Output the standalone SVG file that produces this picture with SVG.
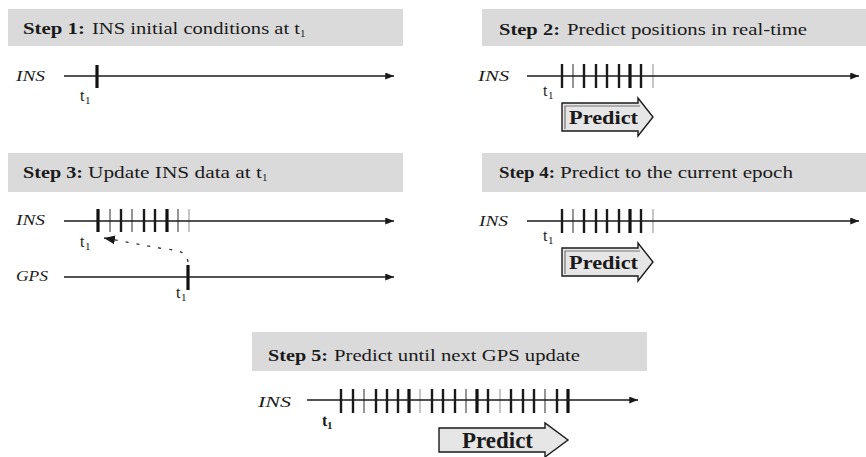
<svg xmlns="http://www.w3.org/2000/svg" width="866" height="457" viewBox="0 0 866 457">
  <defs>
    <style>
      text { font-family: "Liberation Serif", "Times New Roman", Times, "DejaVu Serif", serif; fill: #1a1a1a; }
      .hdr { fill: #dadada; }
      .ttl { font-size: 17px; }
      .ttl-b { font-weight: bold; }
      .sub { font-size: 11px; }
      .lbl { font-size: 15px; font-style: italic; }
      .tlab { font-size: 16px; }
      .axis { stroke: #1a1a1a; stroke-width: 1.6; fill: none; marker-end: url(#head); }
      .tk { stroke: #1a1a1a; stroke-width: 2.4; }
      .tk-b { stroke: #111; stroke-width: 3.2; }
      .tk-g { stroke: #8a8a8a; stroke-width: 1.8; }
      .tk-l { stroke: #b8b8b8; stroke-width: 1.6; }
      .pred { fill: #e6e6e6; stroke: #1a1a1a; stroke-width: 1.4; }
      .pred-sh { fill: none; stroke: #777; stroke-width: 1.2; }
      .ptxt { font-weight: bold; }
    </style>
    <marker id="head" viewBox="0 0 10 8" refX="10" refY="4" markerWidth="10" markerHeight="7" markerUnits="userSpaceOnUse" orient="auto">
      <path d="M0,0 L10,4 L0,8 Z" fill="#1a1a1a"/>
    </marker>
    <marker id="back" viewBox="0 0 10 8" refX="10" refY="4" markerWidth="11" markerHeight="9" markerUnits="userSpaceOnUse" orient="auto">
      <path d="M0,0 L10,4 L0,8 Z" fill="#1a1a1a"/>
    </marker>
  </defs>
  <rect width="866" height="457" fill="#ffffff"/>

  <!-- Step 1 -->
  <g id="step1">
    <rect class="hdr" x="8" y="9" width="395" height="37"/>
    <text class="ttl ttl-b" x="23" y="34" textLength="62" lengthAdjust="spacingAndGlyphs">Step 1:</text>
    <text class="ttl" x="92" y="34" textLength="208" lengthAdjust="spacingAndGlyphs">INS initial conditions at t</text>
    <text class="sub" x="300" y="37">1</text>
    <text class="lbl" x="16" y="81" textLength="29" lengthAdjust="spacingAndGlyphs">INS</text>
    <line class="tk-b" x1="97" y1="65" x2="97" y2="88"/>
    <text class="tlab" x="80" y="101">t</text>
    <text class="sub" x="85" y="104">1</text>
  </g>

  <!-- Step 2 -->
  <g id="step2">
    <rect class="hdr" x="482" y="9" width="384" height="37"/>
    <text class="ttl ttl-b" x="499" y="35" textLength="61" lengthAdjust="spacingAndGlyphs">Step 2:</text>
    <text class="ttl" x="567" y="35" textLength="240" lengthAdjust="spacingAndGlyphs">Predict positions in real-time</text>
    <text class="lbl" x="478" y="81" textLength="31" lengthAdjust="spacingAndGlyphs">INS</text>
    <g>
      <line class="tk" x1="562" y1="64" x2="562" y2="88"/>
      <line class="tk-g" x1="573" y1="64" x2="573" y2="88"/>
      <line class="tk" x1="584" y1="64" x2="584" y2="88"/>
      <line class="tk" x1="596" y1="64" x2="596" y2="88"/>
      <line class="tk" x1="607" y1="64" x2="607" y2="88"/>
      <line class="tk" x1="619" y1="64" x2="619" y2="88"/>
      <line class="tk-b" x1="630" y1="64" x2="630" y2="88"/>
      <line class="tk" x1="641" y1="64" x2="641" y2="88"/>
      <line class="tk-l" x1="653" y1="64" x2="653" y2="88"/>
    </g>
    <text class="tlab" x="543" y="96">t</text>
    <text class="sub" x="548" y="99">1</text>
    <polygon class="pred" points="562,103 638,103 638,98 653,117 638,136 638,131 562,131"/>
    <polyline class="pred-sh" points="565,129 565,106 640,106"/>
    <text class="ptxt" x="569" y="124" font-size="19" textLength="69" lengthAdjust="spacingAndGlyphs">Predict</text>
  </g>

  <!-- Step 3 -->
  <g id="step3">
    <rect class="hdr" x="8" y="153" width="395" height="39"/>
    <text class="ttl ttl-b" x="23" y="178" textLength="60" lengthAdjust="spacingAndGlyphs">Step 3:</text>
    <text class="ttl" x="88" y="178" textLength="174" lengthAdjust="spacingAndGlyphs">Update INS data at t</text>
    <text class="sub" x="262" y="181">1</text>
    <text class="lbl" x="16" y="225" textLength="29" lengthAdjust="spacingAndGlyphs">INS</text>
    <text class="lbl" x="16" y="281" textLength="32" lengthAdjust="spacingAndGlyphs">GPS</text>
    <g>
      <line class="tk-b" x1="98" y1="209" x2="98" y2="232"/>
      <line class="tk-g" x1="110" y1="209" x2="110" y2="232"/>
      <line class="tk" x1="121" y1="209" x2="121" y2="232"/>
      <line class="tk-g" x1="132" y1="209" x2="132" y2="232"/>
      <line class="tk" x1="144" y1="209" x2="144" y2="232"/>
      <line class="tk" x1="155" y1="209" x2="155" y2="232"/>
      <line class="tk-b" x1="167" y1="209" x2="167" y2="232"/>
      <line class="tk-g" x1="178" y1="209" x2="178" y2="232"/>
      <line class="tk-l" x1="189" y1="209" x2="189" y2="232"/>
    </g>
    <text class="tlab" x="80" y="247">t</text>
    <text class="sub" x="85" y="250">1</text>
    <line class="tk-b" x1="188" y1="265" x2="188" y2="290"/>
    <text class="tlab" x="176" y="298">t</text>
    <text class="sub" x="181" y="301">1</text>
  </g>

  <!-- Step 4 -->
  <g id="step4">
    <rect class="hdr" x="482" y="153" width="384" height="39"/>
    <text class="ttl ttl-b" x="499" y="178" textLength="56" lengthAdjust="spacingAndGlyphs">Step 4:</text>
    <text class="ttl" x="560" y="178" textLength="233" lengthAdjust="spacingAndGlyphs">Predict to the current epoch</text>
    <text class="lbl" x="479" y="226" textLength="29" lengthAdjust="spacingAndGlyphs">INS</text>
    <g>
      <line class="tk" x1="562" y1="209" x2="562" y2="233"/>
      <line class="tk-g" x1="573" y1="209" x2="573" y2="233"/>
      <line class="tk" x1="584" y1="209" x2="584" y2="233"/>
      <line class="tk" x1="596" y1="209" x2="596" y2="233"/>
      <line class="tk" x1="607" y1="209" x2="607" y2="233"/>
      <line class="tk" x1="619" y1="209" x2="619" y2="233"/>
      <line class="tk-b" x1="630" y1="209" x2="630" y2="233"/>
      <line class="tk" x1="641" y1="209" x2="641" y2="233"/>
      <line class="tk-l" x1="653" y1="209" x2="653" y2="233"/>
    </g>
    <text class="tlab" x="543" y="241">t</text>
    <text class="sub" x="548" y="244">1</text>
    <polygon class="pred" points="562,248 638,248 638,243 653,262 638,281 638,276 562,276"/>
    <polyline class="pred-sh" points="565,274 565,251 640,251"/>
    <text class="ptxt" x="569" y="269" font-size="19" textLength="69" lengthAdjust="spacingAndGlyphs">Predict</text>
  </g>

  <!-- Step 5 -->
  <g id="step5">
    <rect class="hdr" x="252" y="332" width="395" height="39"/>
    <text class="ttl ttl-b" x="268" y="361" textLength="60" lengthAdjust="spacingAndGlyphs">Step 5:</text>
    <text class="ttl" x="334" y="361" textLength="246" lengthAdjust="spacingAndGlyphs">Predict until next GPS update</text>
    <text class="lbl" x="258" y="407" textLength="33" lengthAdjust="spacingAndGlyphs">INS</text>
    <g>
      <line class="tk" x1="341" y1="389" x2="341" y2="413"/>
      <line class="tk" x1="353" y1="389" x2="353" y2="413"/>
      <line class="tk-g" x1="364" y1="389" x2="364" y2="413"/>
      <line class="tk" x1="376" y1="389" x2="376" y2="413"/>
      <line class="tk" x1="387" y1="389" x2="387" y2="413"/>
      <line class="tk" x1="398" y1="389" x2="398" y2="413"/>
      <line class="tk-b" x1="409" y1="389" x2="409" y2="413"/>
      <line class="tk-l" x1="420" y1="389" x2="420" y2="413"/>
      <line class="tk" x1="432" y1="389" x2="432" y2="413"/>
      <line class="tk" x1="443" y1="389" x2="443" y2="413"/>
      <line class="tk" x1="455" y1="389" x2="455" y2="413"/>
      <line class="tk-g" x1="466" y1="389" x2="466" y2="413"/>
      <line class="tk-b" x1="477" y1="389" x2="477" y2="413"/>
      <line class="tk" x1="488" y1="389" x2="488" y2="413"/>
      <line class="tk-l" x1="500" y1="389" x2="500" y2="413"/>
      <line class="tk" x1="511" y1="389" x2="511" y2="413"/>
      <line class="tk" x1="523" y1="389" x2="523" y2="413"/>
      <line class="tk" x1="534" y1="389" x2="534" y2="413"/>
      <line class="tk-g" x1="545" y1="389" x2="545" y2="413"/>
      <line class="tk" x1="557" y1="389" x2="557" y2="413"/>
      <line class="tk-b" x1="568" y1="389" x2="568" y2="413"/>
    </g>
    <text class="tlab" x="322" y="426" font-weight="bold">t</text>
    <text class="sub" x="327" y="429" font-weight="bold">1</text>
    <polygon class="pred" points="439,428 545,428 545,423 568,440 545,457 545,452 439,452" stroke-width="1.2"/>
    <text class="ptxt" x="462" y="448" font-size="23" textLength="71" lengthAdjust="spacingAndGlyphs">Predict</text>
  </g>

  <!-- Connectors: time axes and the GPS-to-INS update link -->
  <g id="connectors">
    <line class="axis" x1="64" y1="76" x2="394" y2="76"/>
    <line class="axis" x1="527" y1="76" x2="859" y2="76"/>
    <line class="axis" x1="64" y1="221" x2="394" y2="221"/>
    <line class="axis" x1="64" y1="277" x2="394" y2="277"/>
    <line class="axis" x1="527" y1="221" x2="859" y2="221"/>
    <line class="axis" x1="307" y1="400" x2="638" y2="400"/>
    <path d="M188,262 C187,253 180,250 165,249 L104,238" fill="none" stroke="#333" stroke-width="1.3" stroke-dasharray="3,8" marker-end="url(#back)"/>
  </g>
</svg>
